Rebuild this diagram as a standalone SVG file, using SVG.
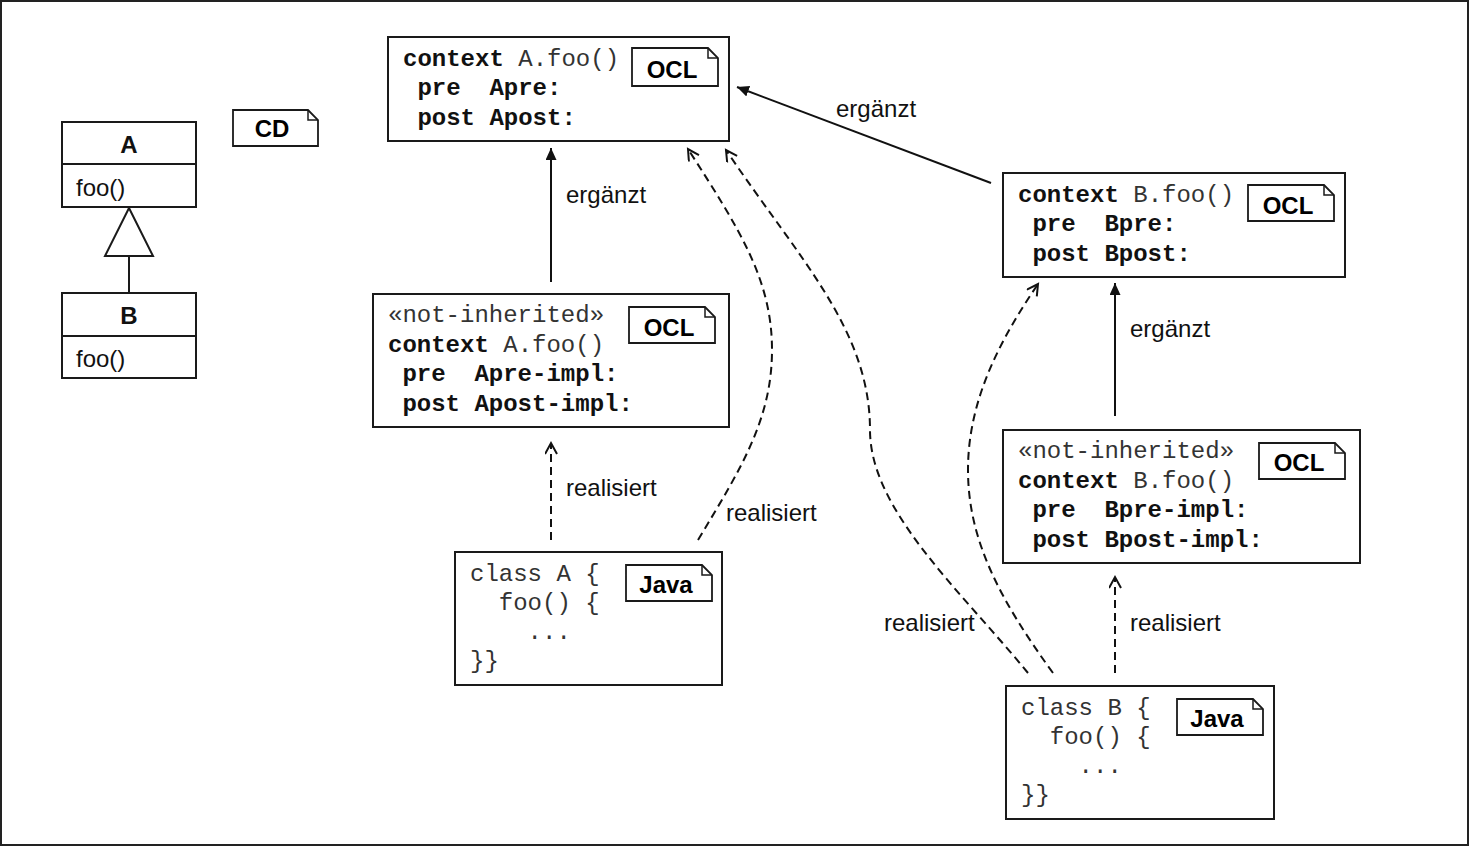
<svg xmlns="http://www.w3.org/2000/svg" width="1470" height="848" viewBox="0 0 1470 848">
<style>
.box{fill:#fff;stroke:#1a1a1a;stroke-width:2}
.tag{fill:#fff;stroke:#1a1a1a;stroke-width:1.8}
.tagt{font-family:"Liberation Sans",Arial,sans-serif;font-weight:bold;font-size:24px;fill:#000;text-anchor:middle}
.mono{font-family:"Liberation Mono","Courier New",monospace;font-size:24px;fill:#333;white-space:pre}
.mb{font-weight:bold;fill:#111}
.lbl{font-family:"Liberation Sans",Arial,sans-serif;font-size:24px;fill:#111}
.cls{font-family:"Liberation Sans",Arial,sans-serif;font-size:24px;fill:#111}
.solid{fill:none;stroke:#111;stroke-width:2;marker-end:url(#filled)}
.dash{fill:none;stroke:#111;stroke-width:2;stroke-dasharray:8 5;marker-end:url(#open)}
</style>
<defs>
<marker id="filled" markerUnits="userSpaceOnUse" markerWidth="14" markerHeight="13" refX="12" refY="5.5" orient="auto">
<path d="M0,0 L12,5.5 L0,11 z" fill="#111"/>
</marker>
<marker id="open" markerUnits="userSpaceOnUse" markerWidth="16" markerHeight="15" refX="12" refY="6.5" orient="auto">
<path d="M1,0.5 L12,6.5 L1,12.5" fill="none" stroke="#111" stroke-width="2" stroke-dasharray="none"/>
</marker>
</defs>
<rect x="1" y="1" width="1467" height="844" fill="#fff" stroke="#222" stroke-width="2"/>

<g id="classA">
<rect class="box" x="62" y="122" width="134" height="85"/>
<line x1="62" y1="164" x2="196" y2="164" stroke="#1a1a1a" stroke-width="2"/>
<text class="cls" x="129" y="153" text-anchor="middle" font-weight="bold">A</text>
<text class="cls" x="76" y="196">foo()</text>
</g>
<g id="classB">
<rect class="box" x="62" y="293" width="134" height="85"/>
<line x1="62" y1="336" x2="196" y2="336" stroke="#1a1a1a" stroke-width="2"/>
<text class="cls" x="129" y="324" text-anchor="middle" font-weight="bold">B</text>
<text class="cls" x="76" y="367">foo()</text>
</g>
<g id="cdTag">
<path class="tag" d="M233,110 H308 L318,120 V146 H233 Z"/>
<path d="M308,110 V120 H318" fill="none" stroke="#1a1a1a" stroke-width="1.5"/>
<text class="tagt" x="272" y="137">CD</text>
</g>

<g id="oclA">
<rect class="box" x="388" y="37" width="341" height="104"/>
<text class="mono" x="403" y="65.5"><tspan class="mb">context</tspan> A.foo()</text>
<text class="mono mb" x="403" y="95"> pre  Apre:</text>
<text class="mono mb" x="403" y="124.5"> post Apost:</text>
<path class="tag" d="M632,48 H708 L718,58 V86 H632 Z"/>
<path d="M708,48 V58 H718" fill="none" stroke="#1a1a1a" stroke-width="1.5"/>
<text class="tagt" x="672" y="78">OCL</text>
</g>

<g id="oclAimpl">
<rect class="box" x="373" y="294" width="356" height="133"/>
<text class="mono" x="388" y="322">«not-inherited»</text>
<text class="mono" x="388" y="351.5"><tspan class="mb">context</tspan> A.foo()</text>
<text class="mono mb" x="388" y="381"> pre  Apre-impl:</text>
<text class="mono mb" x="388" y="410.5"> post Apost-impl:</text>
<path class="tag" d="M629,307 H705 L715,317 V343 H629 Z"/>
<path d="M705,307 V317 H715" fill="none" stroke="#1a1a1a" stroke-width="1.5"/>
<text class="tagt" x="669" y="336">OCL</text>
</g>

<g id="javaA">
<rect class="box" x="455" y="552" width="267" height="133"/>
<text class="mono" x="470" y="581">class A {</text>
<text class="mono" x="470" y="610">  foo() {</text>
<text class="mono" x="470" y="639">    ...</text>
<text class="mono" x="470" y="668">}}</text>
<path class="tag" d="M626,565 H702 L712,575 V601 H626 Z"/>
<path d="M702,565 V575 H712" fill="none" stroke="#1a1a1a" stroke-width="1.5"/>
<text class="tagt" x="666" y="593">Java</text>
</g>

<g id="oclB">
<rect class="box" x="1003" y="173" width="342" height="104"/>
<text class="mono" x="1018" y="201.5"><tspan class="mb">context</tspan> B.foo()</text>
<text class="mono mb" x="1018" y="231"> pre  Bpre:</text>
<text class="mono mb" x="1018" y="260.5"> post Bpost:</text>
<path class="tag" d="M1248,185 H1324 L1334,195 V221 H1248 Z"/>
<path d="M1324,185 V195 H1334" fill="none" stroke="#1a1a1a" stroke-width="1.5"/>
<text class="tagt" x="1288" y="214">OCL</text>
</g>

<g id="oclBimpl">
<rect class="box" x="1003" y="430" width="357" height="133"/>
<text class="mono" x="1018" y="458">«not-inherited»</text>
<text class="mono" x="1018" y="487.5"><tspan class="mb">context</tspan> B.foo()</text>
<text class="mono mb" x="1018" y="517"> pre  Bpre-impl:</text>
<text class="mono mb" x="1018" y="546.5"> post Bpost-impl:</text>
<path class="tag" d="M1259,443 H1335 L1345,453 V479 H1259 Z"/>
<path d="M1335,443 V453 H1345" fill="none" stroke="#1a1a1a" stroke-width="1.5"/>
<text class="tagt" x="1299" y="471">OCL</text>
</g>

<g id="javaB">
<rect class="box" x="1006" y="686" width="268" height="133"/>
<text class="mono" x="1021" y="715">class B {</text>
<text class="mono" x="1021" y="744">  foo() {</text>
<text class="mono" x="1021" y="773">    ...</text>
<text class="mono" x="1021" y="802">}}</text>
<path class="tag" d="M1177,699 H1253 L1263,709 V735 H1177 Z"/>
<path d="M1253,699 V709 H1263" fill="none" stroke="#1a1a1a" stroke-width="1.5"/>
<text class="tagt" x="1217" y="727">Java</text>
</g>

<g id="connectors">
<path d="M129,256 V293" stroke="#1a1a1a" stroke-width="2" fill="none"/>
<path d="M129,208 L153,256 H105 Z" fill="#fff" stroke="#1a1a1a" stroke-width="2"/>

<path class="solid" d="M551,282 V148"/>
<text class="lbl" x="566" y="203">ergänzt</text>
<path class="solid" d="M991,183 L737,87"/>
<text class="lbl" x="836" y="117">ergänzt</text>
<path class="solid" d="M1115,416 V283"/>
<text class="lbl" x="1130" y="337">ergänzt</text>

<path class="dash" d="M551,540 V443"/>
<text class="lbl" x="566" y="496">realisiert</text>
<path class="dash" d="M698,540 C740,470 772,420 772,350 C772,280 740,230 688,149"/>
<text class="lbl" x="726" y="521">realisiert</text>
<path class="dash" d="M1028,673 C960,590 870,510 870,430 C870,330 800,260 726,150"/>
<text class="lbl" x="884" y="631">realisiert</text>
<path class="dash" d="M1053,673 C1000,600 968,540 968,470 C968,400 1000,340 1038,284"/>
<path class="dash" d="M1115,673 V577"/>
<text class="lbl" x="1130" y="631">realisiert</text>
</g>
</svg>
